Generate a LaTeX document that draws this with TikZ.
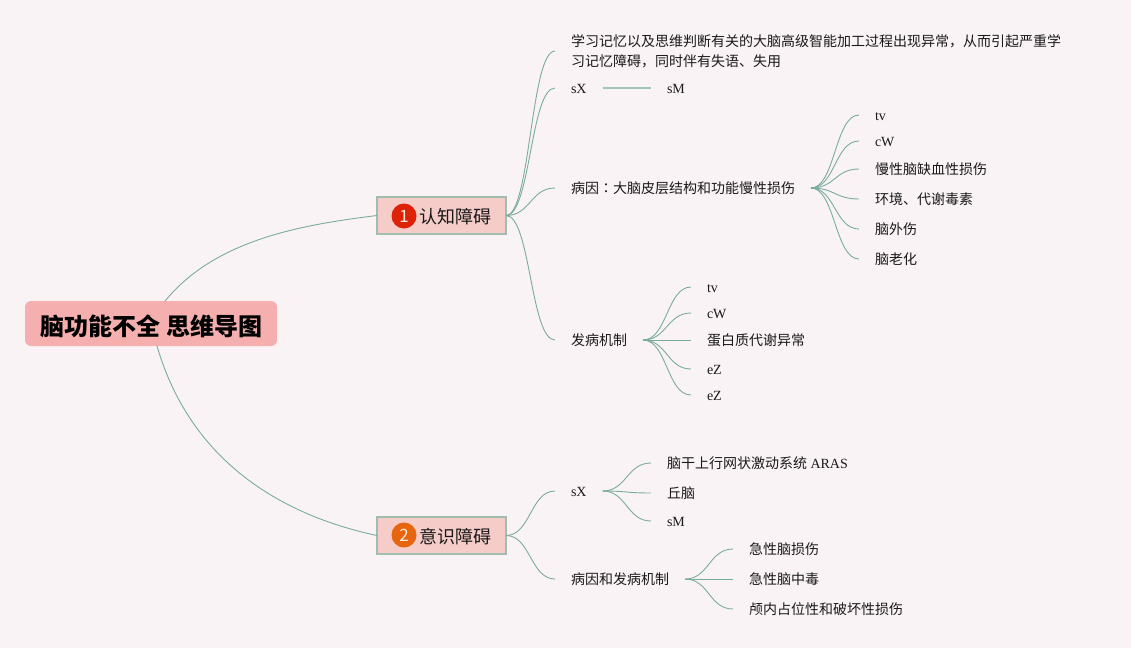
\documentclass[tikz,border=0pt]{standalone}
\usepackage{fontspec}
\setmainfont{Liberation Serif}
\newfontfamily\cjk{Noto Sans CJK SC}
\newfontfamily\cjktc{Noto Sans CJK TC}
\usetikzlibrary{calc}
\definecolor{bgc}{HTML}{FAF3F6}
\definecolor{linkc}{HTML}{7AAC9E}
\definecolor{softc}{HTML}{A3C4B8}
\definecolor{rootc}{HTML}{F4AFAE}
\definecolor{boxc}{HTML}{F5CCC8}
\definecolor{boxb}{HTML}{A0BDB0}
\definecolor{oneC}{HTML}{DD2208}
\definecolor{twoC}{HTML}{E8650F}
\newcommand{\conn}[2]{\draw[link] let \p1=(#1.east),\p2=(#2.west),\n1={0.5*(\x1+\x2)} in (\p1) .. controls (\n1,\y1) and (\n1,\y2) .. (\p2);}
\tikzset{
  link/.style={draw=linkc,line width=0.9pt},
  leaf/.style={anchor=west,inner xsep=16pt,inner ysep=0pt,outer sep=0pt,text height=14pt,text depth=3pt,font=\fontsize{14}{20}\selectfont,text=black!90},
  rootbox/.style={fill=rootc,rounded corners=6pt,minimum width=252pt,minimum height=45pt,inner sep=0pt,outer sep=0pt,font=\cjk\bfseries\fontsize{24}{28}\selectfont,text=black},
  topicbox/.style={fill=boxc,draw=boxb,line width=1.6pt,minimum width=129pt,minimum height=37pt,inner sep=0pt,outer sep=0pt},
  topictext/.style={inner sep=0pt,font=\cjk\fontsize{18}{22}\selectfont,text=black!90},
  badge/.style={circle,minimum size=25pt,inner sep=0pt,text=white!85!orange,font=\cjk\fontsize{17}{20}\selectfont}
}
\begin{document}
\begin{tikzpicture}[x=1pt,y=-1pt]
\path[fill=bgc,use as bounding box] (0,0) rectangle (1131,648);
% root and topics
\node[rootbox] (root) at (151,323.5) {\raisebox{-12pt}[10pt][10pt]{脑功能不全\hspace{6pt}思维导图}};
\node[topicbox] (one) at (441.5,215.5) {};
\node[badge,fill=oneC] (b1) at (404,216) {1};
\node[topictext,anchor=west] (t1) at (419.5,217) {认知障碍};
\node[topicbox] (two) at (441.5,535.5) {};
\node[badge,fill=twoC] (b2) at (404,535) {2};
\node[topictext,anchor=west] (t2) at (419.5,537) {意识障碍};
% branch one, first level
\node[leaf,align=left,text height={},text depth={}] (a1) at (555,51) {\cjk 学习记忆以及思维判断有关的大脑高级智能加工过程出现异常，从而引起严重学\\\cjk 习记忆障碍，同时伴有失语、失用};
\node[leaf] (a2) at (555,88) {sX};
\node[leaf] (a2b) at (651,88) {sM};
\node[leaf] (a3) at (555,188) {\cjk 病因{\cjktc ：}大脑皮层结构和功能慢性损伤};
\node[leaf] (a4) at (555,340) {\cjk 发病机制};
% causes
\node[leaf] (c1) at (859,115) {tv};
\node[leaf] (c2) at (859,141) {cW};
\node[leaf] (c3) at (859,169) {\cjk 慢性脑缺血性损伤};
\node[leaf] (c4) at (859,199) {\cjk 环境、代谢毒素};
\node[leaf] (c5) at (859,229) {\cjk 脑外伤};
\node[leaf] (c6) at (859,259) {\cjk 脑老化};
% mechanism
\node[leaf] (m1) at (691,287) {tv};
\node[leaf] (m2) at (691,313) {cW};
\node[leaf] (m3) at (691,340) {\cjk 蛋白质代谢异常};
\node[leaf] (m4) at (691,369) {eZ};
\node[leaf] (m5) at (691,395) {eZ};
% branch two
\node[leaf] (d1) at (555,491) {sX};
\node[leaf] (d2) at (555,579) {\cjk 病因和发病机制};
\node[leaf] (e1) at (651,463) {{\cjk 脑干上行网状激动系统} ARAS};
\node[leaf] (e2) at (651,493) {\cjk 丘脑};
\node[leaf] (e3) at (651,521) {sM};
\node[leaf] (f1) at (733,549) {\cjk 急性脑损伤};
\node[leaf] (f2) at (733,579) {\cjk 急性脑中毒};
\node[leaf] (f3) at (733,609) {\cjk 颅内占位性和破坏性损伤};
% connectors
\draw[link] (root.58) .. controls (215,240) and (300,225) .. (one.west);
\draw[link] (root.-75) .. controls (190,460) and (280,515) .. (two.west);
\foreach \c in {a1,a2,a3,a4}{\conn{one}{\c}}
\draw[draw=softc,line width=1.4pt] (a2.east) -- (a2b.west);
\foreach \c in {c1,c2,c3,c4,c5,c6}{\conn{a3}{\c}}
\foreach \c in {m1,m2,m3,m4,m5}{\conn{a4}{\c}}
\foreach \c in {d1,d2}{\conn{two}{\c}}
\foreach \c in {e1,e2,e3}{\conn{d1}{\c}}
\foreach \c in {f1,f2,f3}{\conn{d2}{\c}}
\end{tikzpicture}
\end{document}
